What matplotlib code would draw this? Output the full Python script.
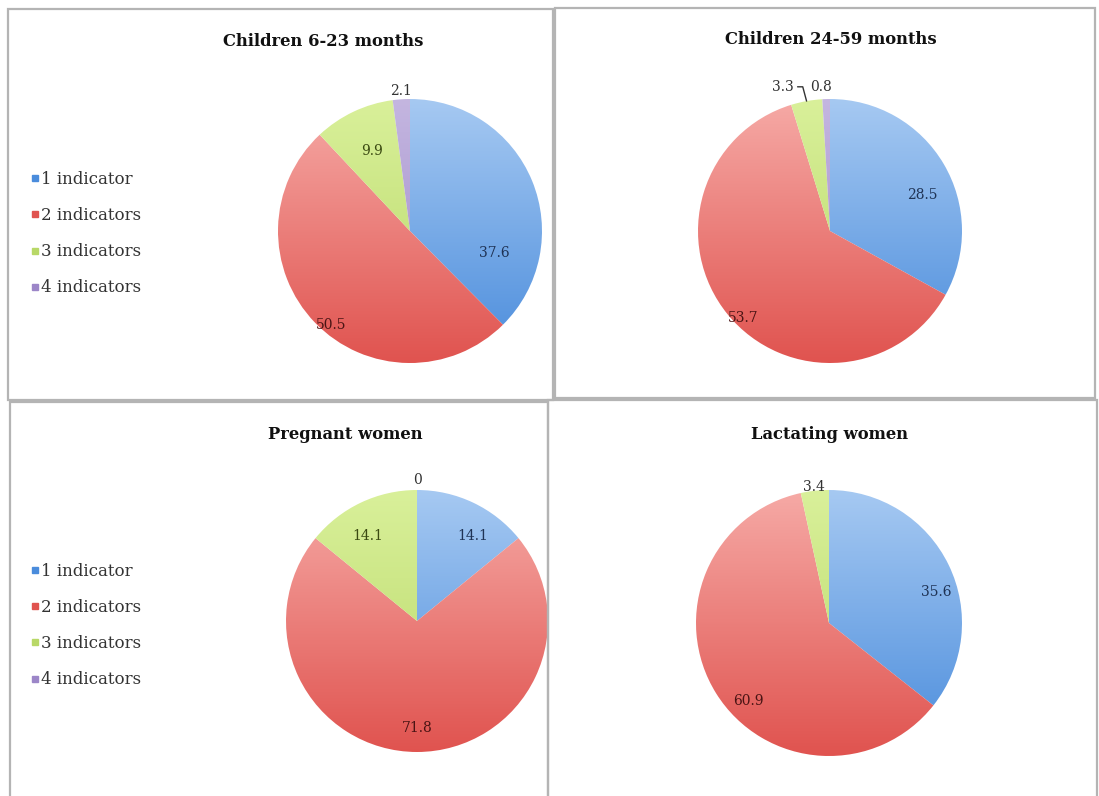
import numpy as np
import matplotlib
matplotlib.use("Agg")
import matplotlib.pyplot as plt
from matplotlib.colors import LinearSegmentedColormap
from matplotlib.lines import Line2D
from matplotlib.patches import Rectangle

plt.rcParams['font.family'] = ['DejaVu Serif']

# data
categories = ['1 indicator', '2 indicators', '3 indicators', '4 indicators']
titles = ['Children 6-23 months', 'Children 24-59 months', 'Pregnant women', 'Lactating women']
child_6_23 = [37.6, 50.5, 9.9, 2.1]
child_24_59 = [28.5, 53.7, 3.3, 0.8]
pregnant = [14.1, 71.8, 14.1, 0]
lactating = [35.6, 60.9, 3.4, 0]
series = [child_6_23, child_24_59, pregnant, lactating]
show_label = [[1, 1, 1, 1], [1, 1, 1, 1], [1, 1, 1, 1], [1, 1, 1, 0]]

# style
W, H = 1099, 796
light = ['#a6c9f2', '#f6aaa6', '#d9f09a', '#c4b6e0']
dark = ['#4a8cdc', '#e0534f', '#b8d867', '#9c86c8']
text_dark = ['#1f3355', '#4a1414', '#3b4a12', '#333333']

# per chart: pie center / radius in px, title pos, label distance + angle shift, leader flags
pie_px = [(410, 231, 132), (830, 231, 132), (417, 621, 131), (829, 623, 133)]
title_px = [(323, 42), (831, 40), (345, 435), (830, 435)]
label_dist = [[0.66, 0.93, 0.67, 1.06], [0.75, 0.93, 1.15, 1.09],
              [0.78, 0.82, 0.75, 1.08], [0.84, 0.84, 1.03, 1.0]]
label_shift = [[-37, 6, 0, 0], [-9, 6, 8, 2], [-8, 0, 5, 0], [-10, 12, 0, 0]]
leader = [[0, 0, 0, 0], [0, 0, 1, 0], [0, 0, 0, 0], [0, 0, 0, 0]]
legend_px = [(32, 171), None, (32, 563), None]
panels_px = [(8, 9, 545, 391), (555, 8, 540, 390), (10, 402, 538, 400), (548, 400, 549, 402)]

fig = plt.figure(figsize=(W / 100, H / 100), dpi=100)


def px_axes(x0, y0, w, h):
    return fig.add_axes([x0 / W, 1 - (y0 + h) / H, w / W, h / H])


# panel frames
for (x0, y0, w, h) in panels_px:
    fig.patches.append(Rectangle((x0 / W, 1 - (y0 + h) / H), w / W, h / H,
                                 transform=fig.transFigure, fill=False,
                                 ec='#b4b4b4', lw=1.6, zorder=0))

grad = np.linspace(0, 1, 256).reshape(-1, 1)

for k, vals in enumerate(series):
    cx, cy, r = pie_px[k]
    ax = px_axes(cx - r, cy - r, 2 * r, 2 * r)
    wedges, _ = ax.pie(vals, startangle=90, counterclock=False,
                       colors=dark, wedgeprops=dict(linewidth=0))
    for i, w in enumerate(wedges):
        if vals[i] > 0:
            cmap = LinearSegmentedColormap.from_list('g%d' % i, [dark[i], light[i]])
            im = ax.imshow(grad, extent=(-1, 1, -1, 1), origin='lower',
                           cmap=cmap, aspect='auto', zorder=2)
            im.set_clip_path(w)
        w.set_facecolor('none')

        if not show_label[k][i]:
            continue
        mid = np.deg2rad((w.theta1 + w.theta2) / 2 + label_shift[k][i])
        d = label_dist[k][i]
        lx, ly = d * np.cos(mid), d * np.sin(mid)
        col = '#333333' if d > 1 else text_dark[i]
        txt = f"{vals[i]:g}"
        if leader[k][i]:
            rim = np.deg2rad((w.theta1 + w.theta2) / 2)
            ax.annotate(txt, xy=(np.cos(rim), np.sin(rim)), xytext=(lx, ly),
                        ha='center', va='center', fontsize=10, color=col,
                        arrowprops=dict(arrowstyle='-', lw=1, color='#333333',
                                        connectionstyle='angle,angleA=0,angleB=105,rad=0',
                                        shrinkA=1, shrinkB=0),
                        annotation_clip=False, zorder=5)
        else:
            ax.text(lx, ly, txt, ha='center', va='center', fontsize=10,
                    color=col, zorder=5, clip_on=False)
    ax.set_xlim(-1, 1)
    ax.set_ylim(-1, 1)
    ax.axis('off')

    tx, ty = title_px[k]
    fig.text(tx / W, 1 - ty / H, titles[k], ha='center', va='center',
             fontsize=11.8, fontweight='bold', color='#111111')

    if legend_px[k] is not None:
        lxp, lyp = legend_px[k]
        handles = [Line2D([], [], marker='s', ls='', color=c, markersize=4.5)
                   for c in dark]
        fig.legend(handles, categories, loc='upper left',
                   bbox_to_anchor=(lxp / W, 1 - lyp / H), frameon=False,
                   fontsize=12, handlelength=0.4, handletextpad=0.15,
                   labelspacing=1.15, borderpad=0, borderaxespad=0,
                   labelcolor='#333333')

fig.savefig('out.png', dpi=100, facecolor='white')
